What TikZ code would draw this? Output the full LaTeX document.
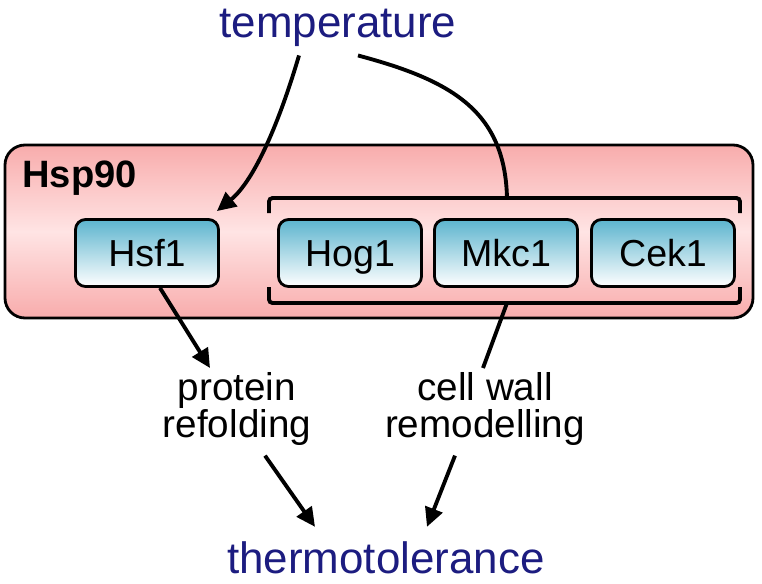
\documentclass[tikz,border=0pt]{standalone}
\usepackage{fontspec}
\setmainfont{Liberation Sans}
\usetikzlibrary{arrows.meta}
\definecolor{navy}{RGB}{28,28,128}
\definecolor{pinkbox}{RGB}{248,172,172}
\definecolor{pinklt}{RGB}{255,228,228}
\definecolor{cyanbox}{RGB}{92,180,206}
\begin{document}
\begin{tikzpicture}[x=0.02cm,y=-0.02cm,
  kin/.style={draw,line width=1.6pt,rounded corners=0.2cm,minimum width=2.86cm,minimum height=1.34cm,
    top color=cyanbox,bottom color=white,text height=15.3pt,text depth=0pt,font=\fontsize{21.4}{21}\selectfont},
  lbl/.style={inner sep=0pt,align=center,font=\fontsize{22}{21}\selectfont},
  big/.style={inner sep=0pt,text=navy,font=\fontsize{25}{25}\selectfont},
  arr/.style={line width=2.2pt,-{Triangle[length=0.38cm,width=0.36cm]}},
  ln/.style={line width=2.2pt}]
\useasboundingbox (0,0) rectangle (762,583);
%Hsp90
\draw[line width=1.6pt,rounded corners=0.4cm,top color=pinkbox,bottom color=pinkbox,middle color=pinklt]
  (5,145) rectangle (753,318);
\node[anchor=base west,inner sep=0pt,font=\bfseries\fontsize{21.7}{22}\selectfont] (hsp) at (22,187) {Hsp90};
%kinases
\node[kin] (hsf1) at (147,253) {Hsf1};
\node[kin] (hog1) at (350,253) {Hog1};
\node[kin] (mkc1) at (506,253) {Mkc1};
\node[kin] (cek1) at (663,253) {Cek1};
%bracket
\draw[ln,rounded corners=2pt](269,213)|-(740,198)--(740,213)(269,287)|-(740,303)--(740,287);
\coordinate (brt) at (507,198);
\coordinate (brb) at (507,303);
%texts
\node[big,anchor=base] (temp) at (338,37) {temperature};
\node[lbl,anchor=north] (prot) at (237,372) {protein\\refolding};
\node[lbl,anchor=north] (cell) at (485,372) {cell wall\\remodelling};
\node[big,anchor=base] (thermo) at (386,573) {thermotolerance};
%arrows
\draw[arr]([xshift=-0.78cm,yshift=-0.18cm]temp.south) .. controls (280,120) and (255,180) .. ([xshift=-0.06cm,yshift=0.14cm]hsf1.north east);
\draw[ln]([xshift=0.4cm,yshift=-0.18cm]temp.south) .. controls (450,80) and (505,110) .. (brt);
\draw[arr]([xshift=0.26cm]hsf1.south)--([xshift=-0.54cm,yshift=0.08cm]prot.north);
\draw[ln](brb)--([xshift=-0.04cm,yshift=0.08cm]cell.north);
\draw[arr]([xshift=0.56cm,yshift=-0.2cm]prot.south)--([xshift=-1.42cm,yshift=0.28cm]thermo.north);
\draw[arr]([xshift=-0.6cm,yshift=-0.2cm]cell.south)--([xshift=0.82cm,yshift=0.28cm]thermo.north);
\end{tikzpicture}
\end{document}
